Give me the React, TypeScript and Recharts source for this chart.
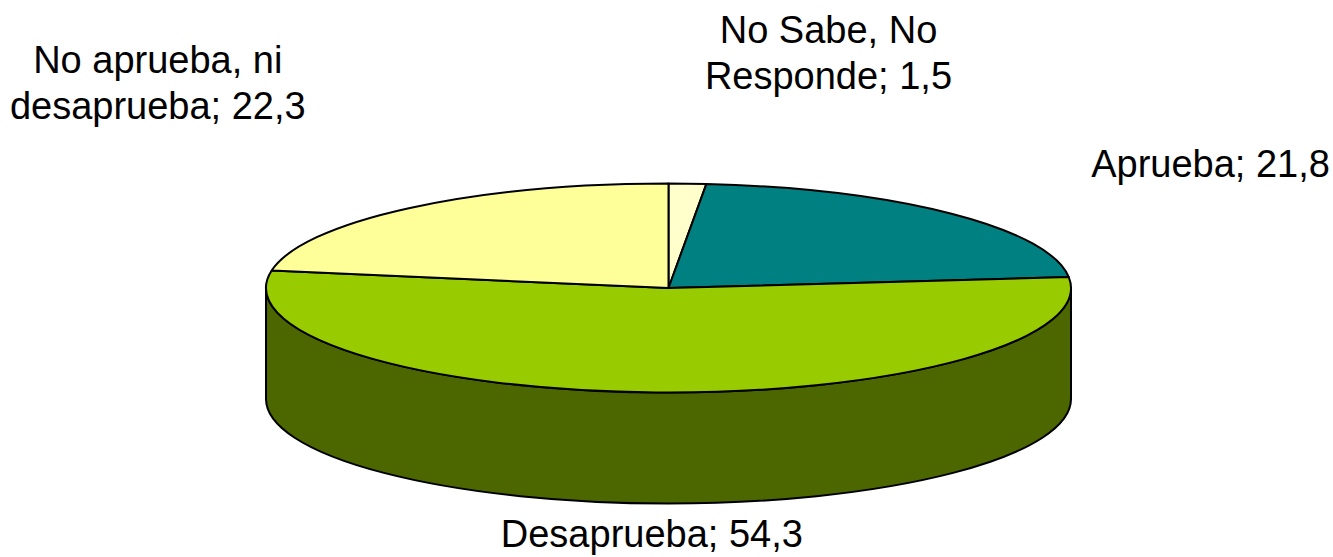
import React from 'react';
import { PieChart, Pie, Cell } from 'recharts';

// ---- data ----
const categories = ['No Sabe, No Responde', 'Aprueba', 'Desaprueba', 'No aprueba, ni desaprueba'];
const values = [1.5, 21.8, 54.3, 22.3];
const labelLines = [
  ['No Sabe, No', 'Responde; 1,5'],
  ['Aprueba; 21,8'],
  ['Desaprueba; 54,3'],
  ['No aprueba, ni', 'desaprueba; 22,3'],
];

// ---- styles ----
const topColors = ['#FFFFCC', '#008080', '#99CC00', '#FFFF99'];
const sideColors = ['#9A9A7A', '#004040', '#4C6600', '#99995C'];
// label offsets relative to the ellipse point at each slice's mid angle (layout only)
const labelOffsets = [
  { dx: 141, dy: -141 },
  { dx: 259, dy: -37 },
  { dx: -4, dy: 155 },
  { dx: -251, dy: -135 },
];

const data = categories.map((name, i) => ({ name, value: values[i] }));

const W = 1333;
const H = 557;
const CX = 668.5;
const CY = 288;
const RX = 402.5;
const TILT = 104.5 / 402.5;
const DEPTH = 111;
const RAD = Math.PI / 180;
const FONT = '"Liberation Sans", Arial, sans-serif';

const renderSlice = (props: any) => {
  const { cx, cy, outerRadius, startAngle, endAngle, midAngle, index } = props;
  const rx = outerRadius;
  const ry = outerRadius * TILT;
  const pt = (a: number, dy = 0) => [cx + rx * Math.cos(a * RAD), cy - ry * Math.sin(a * RAD) + dy];
  const s = pt(startAngle);
  const e = pt(endAngle);
  const span = Math.abs(startAngle - endAngle);
  const large = span > 180 ? 1 : 0;
  const topPath = `M${cx},${cy} L${s[0]},${s[1]} A${rx},${ry} 0 ${large} 1 ${e[0]},${e[1]} Z`;

  // visible side wall (front half: angles between -180 and 0)
  const a1 = Math.min(startAngle, 0);
  const a2 = Math.max(endAngle, -180);
  let sidePath: string | null = null;
  if (a1 > a2) {
    const p1 = pt(a1);
    const p2 = pt(a2);
    const q2 = pt(a2, DEPTH);
    const q1 = pt(a1, DEPTH);
    sidePath = `M${p1[0]},${p1[1]} A${rx},${ry} 0 0 1 ${p2[0]},${p2[1]} L${q2[0]},${q2[1]} A${rx},${ry} 0 0 0 ${q1[0]},${q1[1]} Z`;
  }

  const m = pt(midAngle);
  const off = labelOffsets[index];
  const lx = m[0] + off.dx;
  const ly = m[1] + off.dy;
  const lines = labelLines[index];

  return (
    <g key={`slice-${index}`}>
      {sidePath && (
        <path d={sidePath} fill={sideColors[index]} stroke="#000" strokeWidth={2} strokeLinejoin="round" />
      )}
      <path d={topPath} fill={topColors[index]} stroke="#000" strokeWidth={2} strokeLinejoin="round" />
      <text
        x={lx}
        y={ly}
        textAnchor="middle"
        fontFamily={FONT}
        fontSize={38}
        fill="#000"
        stroke="none"
      >
        {lines.map((t, k) => (
          <tspan key={k} x={lx} dy={k === 0 ? 0 : 46}>
            {t}
          </tspan>
        ))}
      </text>
    </g>
  );
};

export default function App() {
  return (
    <div style={{ position: 'absolute', left: 0, top: 0, width: W, height: H, background: '#fff' }}>
      <PieChart width={W} height={H} margin={{ top: 0, right: 0, bottom: 0, left: 0 }}>
        <Pie
          data={data}
          dataKey="value"
          nameKey="name"
          cx={CX}
          cy={CY}
          innerRadius={0}
          outerRadius={RX}
          startAngle={90}
          endAngle={-270}
          stroke="none"
          label={renderSlice}
          labelLine={false}
          isAnimationActive={false}
        >
          {data.map((d, i) => (
            <Cell key={d.name} fill="none" stroke="none" />
          ))}
        </Pie>
      </PieChart>
    </div>
  );
}
